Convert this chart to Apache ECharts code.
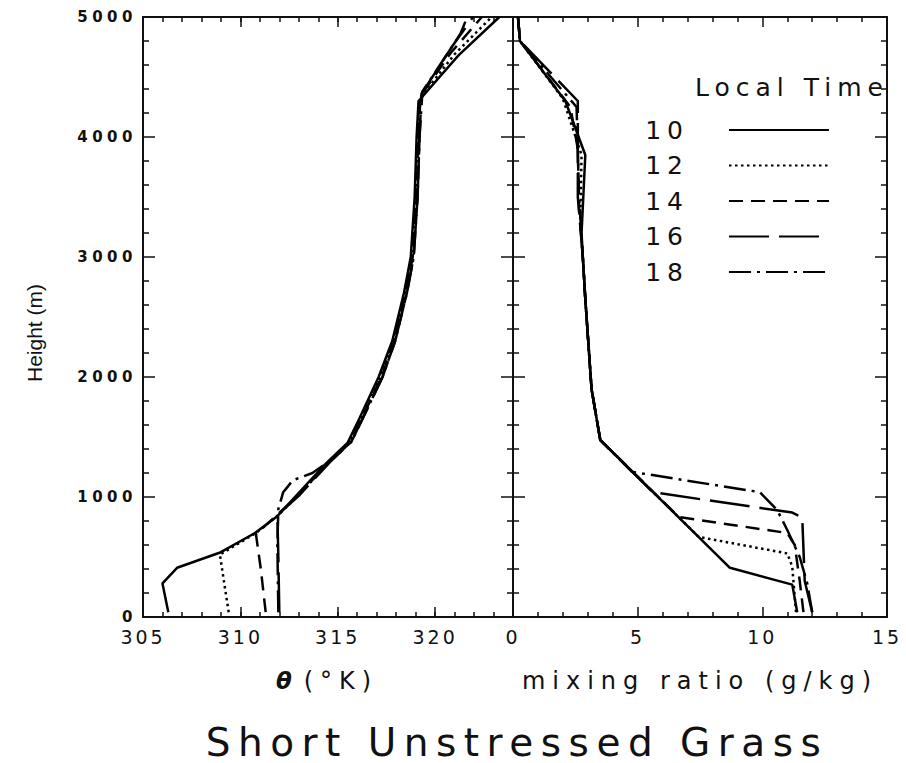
<!DOCTYPE html>
<html lang="en">
<head>
<meta charset="UTF-8">
<title>Short Unstressed Grass</title>
<script src="https://cdn.jsdelivr.net/npm/echarts@6.0.0/dist/echarts.min.js"></script>
<style>
    html, body { margin: 0; padding: 0; background: #fff; }
    #main { width: 906px; height: 763px; }
    /* the plotter lettering of the original is spread out */
    #main text[style*="39px"] { letter-spacing: 7.5px; }
    #main text[style*="24px"] { letter-spacing: 7px; }
    #main text[style*="25px"] { letter-spacing: 6px; }
    #main text[style*="19px"] { letter-spacing: 3px; }
    #main text[style*="15px"] { letter-spacing: 4.5px; }
</style>
</head>
<body>
<div id="main"></div>
<script type="text/javascript">
// local times of the profiles
var times = ['10', '12', '14', '16', '18'];

// potential temperature profiles, [theta (K), height (m)]
var theta10 = [[306.3, 40], [306.0, 280], [306.75, 410], [309.0, 540], [310.75, 700], [311.9, 840], [312.8, 1000], [314.4, 1280], [315.5, 1450], [316.1, 1650], [317.1, 2000], [317.8, 2300], [318.4, 2700], [318.75, 3000], [318.95, 3500], [319.05, 4000], [319.15, 4300], [321.2, 4680], [323.3, 5000]];
var theta12 = [[309.4, 40], [309.2, 250], [308.95, 520], [310.8, 700], [311.95, 850], [312.9, 1000], [314.5, 1280], [315.6, 1450], [316.2, 1650], [317.2, 2000], [317.85, 2300], [318.45, 2700], [318.8, 3000], [319.0, 3500], [319.1, 4000], [319.2, 4320], [321.0, 4690], [322.9, 5000]];
var theta14 = [[311.3, 40], [311.05, 400], [310.8, 690], [311.95, 860], [312.95, 1010], [314.55, 1290], [315.65, 1460], [316.25, 1660], [317.25, 2000], [317.9, 2300], [318.5, 2700], [318.85, 3000], [319.05, 3500], [319.15, 4000], [319.25, 4340], [320.8, 4700], [322.4, 5000]];
var theta16 = [[312.0, 40], [311.95, 500], [311.9, 850], [313.0, 1010], [314.6, 1290], [315.7, 1460], [316.3, 1660], [317.3, 2000], [317.95, 2300], [318.55, 2700], [318.9, 3000], [319.1, 3500], [319.2, 4000], [319.3, 4360], [320.9, 4760], [321.95, 5000]];
var theta18 = [[311.95, 40], [311.9, 600], [311.95, 900], [312.2, 1040], [312.7, 1140], [313.7, 1200], [314.5, 1290], [315.7, 1460], [316.3, 1660], [317.3, 2000], [317.95, 2300], [318.55, 2700], [318.9, 3000], [319.1, 3500], [319.2, 4000], [319.35, 4380], [321.3, 4860], [321.65, 5000]];

// mixing ratio profiles, [q (g/kg), height (m)]
var mix10 = [[11.4, 40], [11.2, 270], [8.7, 410], [3.5, 1475], [3.15, 1900], [2.9, 2650], [2.8, 3000], [2.75, 3200], [2.9, 3850], [2.1, 4300], [0.28, 4800], [0.2, 5000]];
var mix12 = [[11.35, 40], [11.2, 420], [11.0, 530], [7.45, 667], [3.5, 1475], [3.15, 1900], [2.9, 2650], [2.8, 3000], [2.7, 3300], [2.75, 3850], [2.0, 4320], [0.28, 4800], [0.2, 5000]];
var mix14 = [[11.65, 40], [11.5, 300], [11.3, 600], [11.0, 700], [6.65, 833], [3.5, 1475], [3.15, 1900], [2.9, 2650], [2.8, 3000], [2.65, 3400], [2.6, 3900], [2.3, 4250], [0.28, 4800], [0.2, 5000]];
var mix16 = [[12.0, 40], [11.7, 300], [11.6, 830], [11.2, 870], [5.6, 1040], [3.5, 1475], [3.15, 1900], [2.9, 2650], [2.8, 3000], [2.6, 3500], [2.6, 4300], [0.28, 4800], [0.2, 5000]];
var mix18 = [[12.0, 40], [11.8, 280], [11.5, 500], [11.0, 725], [10.6, 890], [9.9, 1040], [4.77, 1210], [3.5, 1475], [3.15, 1900], [2.9, 2650], [2.8, 3000], [2.65, 3500], [2.55, 4250], [0.28, 4800], [0.2, 5000]];

// axis ranges
var thetaRange = [305, 324];
var mixRange = [0, 15];
var heightRange = [0, 5000];

var thetaData = [theta10, theta12, theta14, theta16, theta18];
var mixData = [mix10, mix12, mix14, mix16, mix18];
var dashes = ['solid', [2.5, 3.5], [14, 8], [40, 10], [22, 6, 3, 6]];

var ink = '#111';
var font = 'DejaVu Sans';

var myChart = echarts.init(document.getElementById('main'), null, {renderer: 'svg'});

function xAx(grid, pos, range, step, tickLen, minor, labels, showLine) {
    return {
        gridIndex: grid, type: 'value', position: pos,
        min: range[0], max: range[1], interval: step,
        axisLine: {show: showLine, onZero: false, lineStyle: {color: ink, width: 2}},
        axisTick: {inside: true, length: tickLen, lineStyle: {color: ink, width: 1.5}},
        minorTick: {show: minor, splitNumber: 5, length: 5, lineStyle: {color: ink, width: 1.5}},
        axisLabel: labels ? {
            margin: 10, color: ink, fontFamily: font, fontSize: 19, lineHeight: 19,
            formatter: function (v) { return v % 5 === 0 ? String(v) : ''; }
        } : {show: false},
        splitLine: {show: false}
    };
}

function yAx(grid, pos, inside, labels) {
    return {
        gridIndex: grid, type: 'value', position: pos,
        min: heightRange[0], max: heightRange[1], interval: 1000,
        axisLine: {onZero: false, lineStyle: {color: ink, width: 2}},
        axisTick: {inside: inside, length: 12, lineStyle: {color: ink, width: 1.5}},
        minorTick: {show: true, splitNumber: 5, length: 6, lineStyle: {color: ink, width: 1.5}},
        axisLabel: labels ? {
            margin: 6, color: ink, fontFamily: font, fontSize: 15, lineHeight: 14, fontWeight: 'bold',
            formatter: function (v) { return String(v); }
        } : {show: false},
        splitLine: {show: false}
    };
}

var xAxes = [
    xAx(0, 'bottom', thetaRange, 1, 5, false, true, true),
    xAx(0, 'bottom', thetaRange, 5, 10, false, false, false),
    xAx(0, 'top', thetaRange, 1, 5, false, false, true),
    xAx(0, 'top', thetaRange, 5, 10, false, false, false),
    xAx(1, 'bottom', mixRange, 5, 10, true, true, true),
    xAx(1, 'top', mixRange, 5, 10, true, false, true)
];
xAxes[4].name = 'mixing ratio (g/kg)';
xAxes[4].nameLocation = 'middle';
xAxes[4].nameGap = 52;
xAxes[4].nameTextStyle = {color: ink, fontFamily: font, fontSize: 24};

// theta glyph in its own token, at a size the spacing rule leaves alone;
// tokens left-aligned so the spread lettering only grows to the right
xAxes[0].name = '{t|θ}{u|(°K)}';
xAxes[0].nameLocation = 'middle';
xAxes[0].nameGap = 52;
xAxes[0].nameTextStyle = {
    color: ink, fontFamily: font, fontSize: 24, padding: [0, 30, 0, 0],
    rich: {
        t: {color: ink, fontFamily: font, fontSize: 23, fontWeight: 'bold', fontStyle: 'italic', align: 'left', padding: [0, 12, 0, 0]},
        u: {color: ink, fontFamily: font, fontSize: 24, align: 'left'}
    }
};

var yAxes = [
    yAx(0, 'left', true, true),
    yAx(1, 'left', true, false),
    yAx(1, 'left', false, false),
    yAx(1, 'right', true, false)
];
yAxes[0].name = 'Height (m)';
yAxes[0].nameLocation = 'middle';
yAxes[0].nameGap = 98;
yAxes[0].nameTextStyle = {
    color: ink, fontFamily: 'Liberation Sans', fontSize: 21,
    padding: [0, 32, 0, 0]
};

var series = [];
times.forEach(function (t, i) {
    series.push({
        name: t, type: 'line', xAxisIndex: 0, yAxisIndex: 0,
        data: thetaData[i], symbol: 'none', silent: true,
        lineStyle: {color: '#000', width: 2.5, type: dashes[i]}
    });
    series.push({
        name: t, type: 'line', xAxisIndex: 4, yAxisIndex: 1,
        data: mixData[i], symbol: 'none', silent: true,
        lineStyle: {color: '#000', width: 2.5, type: dashes[i]}
    });
});

var option = {
    animation: false,
    backgroundColor: '#fff',
    title: [
        {
            text: 'Short Unstressed Grass', left: 517, top: 722, padding: 0, textAlign: 'center',
            textStyle: {color: ink, fontFamily: font, fontSize: 39, lineHeight: 40, fontWeight: 'normal'}
        },
        {
            text: 'Local Time', left: 690, top: 70,
            textStyle: {color: ink, fontFamily: font, fontSize: 25, fontWeight: 'normal'}
        }
    ],
    legend: {
        orient: 'vertical', right: 71, top: 112, align: 'right',
        itemWidth: 100, itemHeight: 14, itemGap: 9.5,
        data: times, selectedMode: false,
        itemStyle: {opacity: 0},
        textStyle: {color: ink, fontFamily: font, fontSize: 25, lineHeight: 26, padding: [0, 35, 0, 0]}
    },
    grid: [
        {left: 143, top: 17, width: 370, height: 600},
        {left: 513, top: 17, width: 374, height: 600}
    ],
    xAxis: xAxes,
    yAxis: yAxes,
    series: series
};
myChart.setOption(option);
</script>
</body>
</html>
